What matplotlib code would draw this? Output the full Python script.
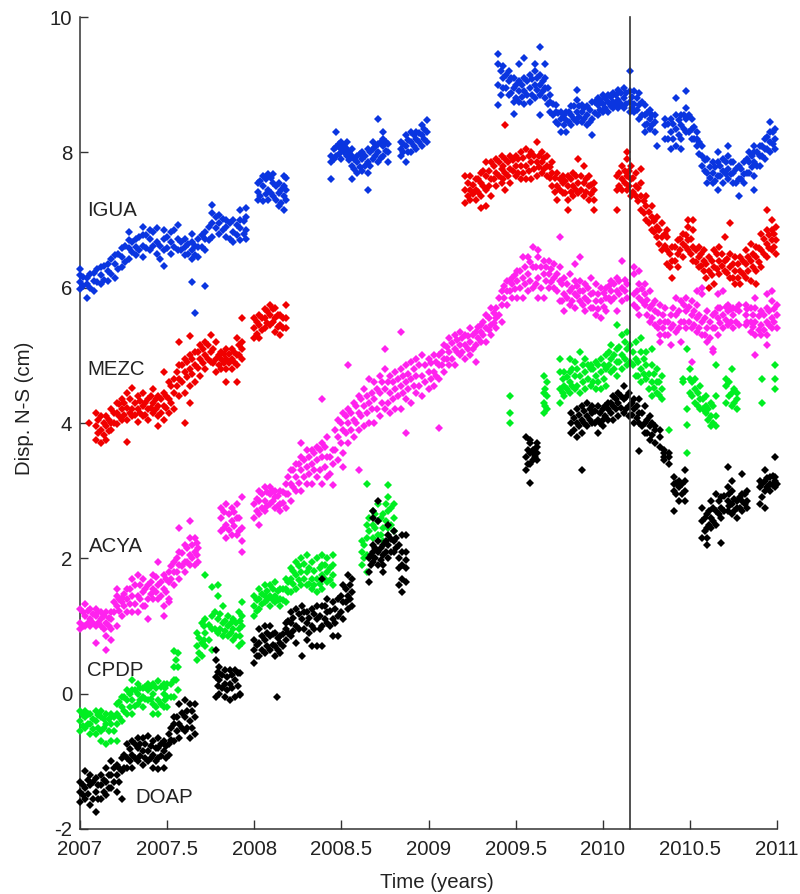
import matplotlib
matplotlib.use("Agg")
import matplotlib.pyplot as plt

plt.rcParams['font.family'] = ['Liberation Sans', 'DejaVu Sans']

X_TICKS = [2007, 2007.5, 2008, 2008.5, 2009, 2009.5, 2010, 2010.5, 2011]
X_LABELS = ['2007', '2007.5', '2008', '2008.5', '2009', '2009.5', '2010', '2010.5', '2011']
Y_TICKS = [-2, 0, 2, 4, 6, 8, 10]
Y_LABELS = ['-2', '0', '2', '4', '6', '8', '10']
EVENT_YEAR = 2010.157

IGUA = [
 (2007.00,[5.98,6.08,6.18,6.28]),(2007.04,[5.85,6.05,6.15]),(2007.08,[5.95,6.10,6.22]),(2007.12,[6.05,6.18,6.30]),
 (2007.16,[6.10,6.25,6.35]),(2007.20,[6.15,6.35,6.48]),(2007.24,[6.30,6.45,6.58]),(2007.28,[6.42,6.58,6.70,6.82]),
 (2007.32,[6.48,6.60,6.72]),(2007.36,[6.45,6.62,6.78,6.90]),(2007.40,[6.55,6.72,6.85]),(2007.44,[6.50,6.68,6.88]),
 (2007.48,[6.32,6.55,6.72,6.85]),(2007.52,[6.50,6.68,6.82]),(2007.56,[6.55,6.72,6.92]),(2007.60,[6.48,6.60,6.72]),
 (2007.645,[6.42,6.55,6.68,6.80,6.08]),(2007.66,[5.63]),(2007.68,[6.45,6.60,6.72]),(2007.72,[6.55,6.72,6.82,6.03]),
 (2007.76,[6.75,6.95,7.10,7.22]),(2007.80,[6.80,6.95,7.08]),(2007.84,[6.75,6.90,7.00]),(2007.88,[6.68,6.82,7.00]),
 (2007.92,[6.70,6.88,7.00,7.15]),(2007.95,[6.72,6.85,7.05,7.18]),
 (2008.02,[7.30,7.42,7.55]),(2008.05,[7.28,7.50,7.65]),(2008.08,[7.30,7.45,7.68]),(2008.11,[7.35,7.55,7.68]),
 (2008.14,[7.20,7.40,7.55]),(2008.17,[7.15,7.35,7.50,7.65]),(2008.185,[7.30,7.45,7.62]),
 (2008.44,[7.60,7.85,7.95]),(2008.47,[7.95,8.08,8.30]),(2008.50,[7.90,8.05,8.15]),(2008.53,[7.95,8.05,8.15]),
 (2008.56,[7.60,7.80,7.95,8.05]),(2008.59,[7.70,7.85,7.95]),(2008.62,[7.72,7.90,8.00]),(2008.65,[7.45,7.70,7.85,8.05]),
 (2008.68,[7.90,8.05,8.15]),(2008.71,[7.85,8.00,8.12,8.50]),(2008.74,[7.95,8.10,8.20,8.30]),(2008.77,[7.85,8.00,8.12]),
 (2008.84,[7.95,8.05,8.15]),(2008.87,[7.85,8.10,8.25]),(2008.90,[8.00,8.15,8.30]),(2008.93,[8.05,8.20,8.30]),
 (2008.96,[8.10,8.25,8.40]),(2008.99,[8.15,8.30,8.48]),
 (2009.40,[8.70,9.00,9.30,9.45]),(2009.43,[8.95,9.10,9.28]),(2009.46,[8.85,9.05,9.20]),(2009.49,[8.56,8.75,8.95,9.10]),
 (2009.52,[8.75,8.90,9.05,9.30]),(2009.55,[8.72,8.90,9.10,9.40]),(2009.58,[8.75,8.95,9.15]),(2009.61,[8.80,9.00,9.20,9.30]),
 (2009.64,[8.55,8.85,9.00,9.15,9.55]),(2009.67,[8.80,8.95,9.10,9.30]),(2009.70,[8.60,8.75,8.85]),(2009.73,[8.45,8.60,8.70]),
 (2009.76,[8.30,8.50,8.60]),(2009.79,[8.30,8.48,8.60]),(2009.82,[8.40,8.55,8.68]),(2009.85,[8.45,8.60,8.78,8.92]),
 (2009.88,[8.45,8.60,8.70]),(2009.91,[8.40,8.55,8.68]),(2009.94,[8.25,8.50,8.75]),(2009.97,[8.55,8.70,8.80]),
 (2010.00,[8.60,8.72,8.85]),(2010.03,[8.60,8.75,8.85]),(2010.06,[8.65,8.75,8.88]),(2010.09,[8.65,8.78,8.92]),
 (2010.12,[8.65,8.80,8.95]),(2010.157,[8.60,8.75,8.90,9.20]),(2010.18,[8.60,8.72,8.90]),(2010.21,[8.50,8.70,8.88]),
 (2010.24,[8.30,8.40,8.55,8.70]),(2010.27,[8.35,8.50,8.62]),(2010.30,[8.30,8.45,8.55]),(2010.31,[8.10]),
 (2010.36,[8.20,8.40,8.50]),(2010.39,[8.05,8.30,8.50]),(2010.42,[8.10,8.35,8.55,8.80]),(2010.45,[8.05,8.20,8.40,8.55]),
 (2010.48,[8.30,8.50,8.65,8.90]),(2010.51,[8.20,8.35,8.50]),(2010.54,[8.10,8.20,8.30]),(2010.57,[7.80,7.95,8.10]),
 (2010.60,[7.55,7.70,7.90]),(2010.63,[7.55,7.70,7.85]),(2010.66,[7.45,7.65,7.85,8.00]),(2010.69,[7.55,7.72,7.90]),
 (2010.72,[7.60,7.75,7.95,8.10]),(2010.75,[7.55,7.70,7.85]),(2010.78,[7.35,7.60,7.80]),(2010.81,[7.55,7.68,7.85]),
 (2010.84,[7.70,7.85,8.00]),(2010.87,[7.45,7.65,7.85,8.00,8.10]),(2010.90,[7.80,7.95,8.10]),(2010.93,[7.90,8.05,8.20]),
 (2010.96,[8.00,8.15,8.30,8.45]),(2010.99,[8.05,8.20,8.35]),
]
IGUA_FILL = [
 (2007.02,[6.02,6.16]),(2007.06,[6.00,6.20]),(2007.10,[6.08,6.28]),(2007.14,[6.12,6.32]),(2007.18,[6.20,6.42]),(2007.22,[6.28,6.50]),
 (2007.26,[6.38,6.62]),(2007.30,[6.52,6.68]),(2007.34,[6.55,6.75]),(2007.38,[6.58,6.78]),(2007.42,[6.62,6.82]),(2007.46,[6.42,6.62]),
 (2007.50,[6.58,6.75]),(2007.54,[6.60,6.85]),(2007.58,[6.55,6.68]),(2007.62,[6.50,6.65]),(2007.66,[6.48,6.62]),(2007.70,[6.60,6.78]),
 (2007.74,[6.70,6.90]),(2007.78,[6.88,7.05]),(2007.82,[6.85,7.02]),(2007.86,[6.72,6.95]),(2007.90,[6.78,6.92]),(2007.94,[6.80,6.98]),
 (2008.035,[7.35,7.58]),(2008.065,[7.38,7.60]),(2008.095,[7.40,7.62]),(2008.125,[7.30,7.50]),(2008.155,[7.25,7.45]),
 (2008.455,[7.90,8.05]),(2008.485,[7.98,8.12]),(2008.515,[8.00,8.10]),(2008.545,[7.88,8.00]),(2008.575,[7.75,7.90]),(2008.605,[7.78,7.98]),
 (2008.635,[7.80,7.95]),(2008.665,[7.80,8.00]),(2008.695,[7.95,8.08]),(2008.725,[7.92,8.15]),(2008.755,[8.02,8.15]),
 (2008.855,[8.00,8.12]),(2008.885,[8.00,8.18]),(2008.915,[8.10,8.25]),(2008.945,[8.15,8.28]),(2008.975,[8.20,8.35]),
 (2009.415,[8.85,9.20]),(2009.445,[8.95,9.15]),(2009.475,[8.88,9.10]),(2009.505,[8.80,9.00]),(2009.535,[8.82,9.00]),(2009.565,[8.85,9.05]),
 (2009.595,[8.85,9.08]),(2009.625,[8.92,9.10]),(2009.655,[8.90,9.05]),(2009.685,[8.72,8.95]),(2009.715,[8.55,8.72]),(2009.745,[8.42,8.58]),
 (2009.775,[8.40,8.55]),(2009.805,[8.45,8.60]),(2009.835,[8.50,8.68]),(2009.865,[8.52,8.68]),(2009.895,[8.50,8.65]),(2009.925,[8.45,8.62]),
 (2009.955,[8.58,8.75]),(2009.985,[8.62,8.78]),(2010.015,[8.65,8.80]),(2010.045,[8.68,8.82]),(2010.075,[8.70,8.85]),(2010.105,[8.72,8.88]),
 (2010.135,[8.72,8.88]),(2010.17,[8.65,8.82]),(2010.195,[8.62,8.80]),(2010.225,[8.55,8.75]),(2010.255,[8.42,8.58]),(2010.285,[8.40,8.55]),
 (2010.375,[8.20,8.42]),(2010.405,[8.20,8.42]),(2010.435,[8.25,8.48]),(2010.465,[8.35,8.55]),(2010.495,[8.30,8.55]),(2010.525,[8.20,8.38]),
 (2010.555,[7.98,8.15]),(2010.585,[7.72,7.88]),(2010.615,[7.62,7.78]),(2010.645,[7.58,7.78]),(2010.675,[7.65,7.80]),(2010.705,[7.68,7.85]),
 (2010.735,[7.68,7.85]),(2010.765,[7.55,7.75]),(2010.795,[7.60,7.75]),(2010.825,[7.70,7.90]),(2010.855,[7.78,7.95]),(2010.885,[7.80,8.00]),
 (2010.915,[7.95,8.10]),(2010.945,[8.05,8.22]),(2010.975,[8.12,8.30]),
]

MEZC = [
 (2007.05,[4.00]),(2007.09,[3.75,3.95,4.15]),(2007.12,[3.70,3.90,4.10]),(2007.15,[3.75,3.95,4.10]),(2007.18,[3.90,4.00,4.20]),
 (2007.21,[3.98,4.15,4.30]),(2007.24,[4.05,4.20,4.35]),(2007.27,[3.72,4.05,4.22,4.45]),(2007.30,[4.10,4.20,4.52]),
 (2007.33,[4.02,4.20,4.40]),(2007.36,[4.10,4.25,4.45]),(2007.39,[4.05,4.20,4.35]),(2007.42,[4.15,4.30,4.50]),
 (2007.45,[3.95,4.10,4.25,4.40]),(2007.48,[4.05,4.25,4.45,4.75]),(2007.51,[4.15,4.35,4.60]),(2007.54,[4.20,4.45,4.65]),
 (2007.57,[4.40,4.65,4.85,5.20]),(2007.60,[4.00,4.45,4.75,4.95]),(2007.63,[4.30,4.55,4.80,5.00,5.28]),(2007.66,[4.60,4.85,5.05]),
 (2007.69,[4.70,4.95,5.15]),(2007.72,[4.80,5.00,5.20]),(2007.75,[4.90,5.05,5.30]),(2007.78,[4.75,4.95,5.20]),
 (2007.81,[4.80,4.95,5.05]),(2007.84,[4.60,4.80,4.95,5.10]),(2007.87,[4.80,4.95,5.10]),(2007.90,[4.60,4.85,5.00,5.25]),
 (2007.93,[4.95,5.10,5.20,5.55]),
 (2008.00,[5.25,5.40,5.55]),(2008.03,[5.25,5.45,5.60]),(2008.06,[5.40,5.55,5.68]),(2008.09,[5.45,5.60,5.75]),
 (2008.12,[5.35,5.55,5.70]),(2008.15,[5.30,5.45,5.60]),(2008.18,[5.40,5.55,5.75]),
 (2009.21,[7.25,7.45,7.65]),(2009.24,[7.30,7.45,7.65]),(2009.27,[7.30,7.45,7.60]),(2009.30,[7.17,7.35,7.55,7.70]),
 (2009.33,[7.20,7.45,7.65,7.85]),(2009.36,[7.35,7.60,7.85]),(2009.39,[7.50,7.70,7.90]),(2009.42,[7.55,7.75,7.95]),
 (2009.44,[7.45,7.70,7.90,8.40]),(2009.47,[7.55,7.75,7.95]),(2009.50,[7.65,7.80,7.95]),(2009.53,[7.60,7.80,8.00]),
 (2009.56,[7.60,7.80,8.05]),(2009.59,[7.60,7.85,8.00]),(2009.62,[7.65,7.85,8.15]),(2009.65,[7.70,7.85,8.00]),
 (2009.68,[7.65,7.80,7.95]),(2009.71,[7.50,7.70,7.85]),(2009.74,[7.30,7.50,7.70]),(2009.77,[7.40,7.55,7.65]),
 (2009.80,[7.15,7.30,7.50,7.65]),(2009.83,[7.35,7.50,7.70]),(2009.86,[7.40,7.55,7.90]),(2009.89,[7.35,7.55,7.80]),
 (2009.92,[7.30,7.50,7.65]),(2009.95,[7.15,7.30,7.45,7.55]),
 (2010.08,[7.15,7.45,7.65]),(2010.11,[7.45,7.60,7.80]),(2010.14,[7.45,7.65,7.90,8.00]),(2010.16,[7.35,7.60,7.80]),
 (2010.19,[7.35,7.50,7.70]),(2010.22,[7.15,7.35,7.55,7.75]),(2010.25,[7.00,7.20,7.35]),(2010.28,[6.85,7.05,7.20]),
 (2010.31,[6.75,6.90,7.05]),(2010.34,[6.55,6.75,6.95]),(2010.37,[6.35,6.55,6.75,6.85]),(2010.40,[6.15,6.40,6.60]),
 (2010.43,[6.30,6.50,6.70]),(2010.46,[6.45,6.65,6.80]),(2010.49,[6.55,6.70,6.90,7.00]),(2010.52,[6.40,6.60,6.85,7.00]),
 (2010.55,[6.30,6.45,6.60]),(2010.58,[6.25,6.40,6.55]),(2010.61,[6.00,6.25,6.45]),(2010.64,[6.05,6.30,6.55]),
 (2010.67,[6.20,6.40,6.60]),(2010.70,[6.25,6.40,6.75]),(2010.73,[6.15,6.30,6.50,6.95]),(2010.76,[6.05,6.25,6.45]),
 (2010.79,[6.05,6.25,6.45]),(2010.82,[6.15,6.35,6.55]),(2010.85,[6.10,6.40,6.65]),(2010.88,[6.05,6.25,6.45,6.60]),
 (2010.91,[6.30,6.55,6.80]),(2010.94,[6.45,6.65,6.85,7.15]),(2010.97,[6.55,6.70,6.85,7.00]),(2010.995,[6.50,6.70,6.90]),
]
MEZC_FILL = [
 (2007.105,[3.85,4.05]),(2007.135,[3.82,4.00]),(2007.165,[3.88,4.05]),(2007.195,[4.00,4.15]),(2007.225,[4.10,4.28]),(2007.255,[4.12,4.30]),
 (2007.285,[4.15,4.35]),(2007.315,[4.12,4.30]),(2007.345,[4.15,4.32]),(2007.375,[4.12,4.30]),(2007.405,[4.22,4.40]),(2007.435,[4.20,4.35]),
 (2007.465,[4.15,4.35]),(2007.495,[4.22,4.40]),(2007.525,[4.30,4.55]),(2007.555,[4.55,4.75]),(2007.585,[4.60,4.85]),(2007.615,[4.68,4.90]),
 (2007.645,[4.72,4.95]),(2007.675,[4.82,5.05]),(2007.705,[4.88,5.10]),(2007.735,[4.95,5.15]),(2007.765,[4.88,5.10]),(2007.795,[4.85,5.00]),
 (2007.825,[4.88,5.02]),(2007.855,[4.88,5.02]),(2007.885,[4.90,5.05]),(2007.915,[5.00,5.15]),
 (2008.015,[5.32,5.50]),(2008.045,[5.38,5.55]),(2008.075,[5.48,5.65]),(2008.105,[5.50,5.68]),(2008.135,[5.42,5.60]),(2008.165,[5.40,5.55]),
 (2009.225,[7.35,7.55]),(2009.255,[7.38,7.52]),(2009.285,[7.42,7.60]),(2009.315,[7.50,7.72]),(2009.345,[7.50,7.72]),(2009.375,[7.60,7.80]),
 (2009.405,[7.65,7.85]),(2009.43,[7.60,7.80]),(2009.455,[7.65,7.85]),(2009.485,[7.72,7.88]),(2009.515,[7.70,7.90]),(2009.545,[7.70,7.92]),
 (2009.575,[7.72,7.95]),(2009.605,[7.75,7.95]),(2009.635,[7.78,7.95]),(2009.665,[7.75,7.92]),(2009.695,[7.62,7.78]),(2009.725,[7.42,7.62]),
 (2009.755,[7.45,7.60]),(2009.785,[7.40,7.58]),(2009.815,[7.42,7.60]),(2009.845,[7.45,7.65]),(2009.875,[7.45,7.65]),(2009.905,[7.42,7.60]),
 (2009.935,[7.38,7.52]),
 (2010.095,[7.50,7.70]),(2010.125,[7.55,7.72]),(2010.15,[7.50,7.72]),(2010.175,[7.42,7.62]),(2010.205,[7.28,7.48]),(2010.235,[7.10,7.28]),
 (2010.265,[6.95,7.12]),(2010.295,[6.82,6.98]),(2010.325,[6.65,6.85]),(2010.355,[6.62,6.80]),(2010.385,[6.30,6.50]),(2010.415,[6.40,6.60]),
 (2010.445,[6.55,6.72]),(2010.475,[6.60,6.78]),(2010.505,[6.50,6.72]),(2010.535,[6.38,6.55]),(2010.565,[6.32,6.50]),(2010.595,[6.15,6.35]),
 (2010.625,[6.18,6.40]),(2010.655,[6.28,6.50]),(2010.685,[6.32,6.50]),(2010.715,[6.22,6.42]),(2010.745,[6.15,6.35]),(2010.775,[6.15,6.35]),
 (2010.805,[6.20,6.40]),(2010.835,[6.25,6.45]),(2010.865,[6.30,6.50]),(2010.895,[6.38,6.58]),(2010.925,[6.50,6.72]),(2010.955,[6.58,6.78]),
 (2010.985,[6.60,6.80]),
]

ACYA = [
 (2007.00,[0.95,1.05,1.25]),(2007.03,[1.00,1.15,1.32]),(2007.06,[1.00,1.10,1.25]),(2007.09,[0.75,1.00,1.15,1.25]),
 (2007.12,[1.00,1.10,1.20]),(2007.15,[0.65,0.85,1.05,1.20]),(2007.18,[0.80,0.95,1.10,1.20]),(2007.21,[1.00,1.30,1.45,1.55]),
 (2007.24,[1.15,1.35,1.42]),(2007.27,[1.20,1.40,1.55]),(2007.30,[1.20,1.45,1.70]),(2007.33,[1.20,1.45,1.75]),
 (2007.36,[1.30,1.50,1.70]),(2007.39,[1.10,1.40,1.60]),(2007.42,[1.40,1.55,1.75]),(2007.45,[1.40,1.60,1.95]),
 (2007.48,[1.15,1.30,1.55,1.75]),(2007.51,[1.35,1.40,1.65,1.80]),(2007.54,[1.60,1.80,1.95]),(2007.57,[1.70,1.90,2.10,2.45]),
 (2007.60,[1.80,1.95,2.20]),(2007.63,[1.90,2.05,2.30,2.55]),(2007.66,[1.90,2.10,2.30]),(2007.68,[1.95,2.15]),
 (2007.81,[2.40,2.60,2.75]),(2007.84,[2.30,2.50,2.80]),(2007.87,[2.35,2.55,2.75]),(2007.90,[2.35,2.60,2.80]),
 (2007.93,[2.10,2.25,2.45,2.90]),
 (2008.00,[2.60,2.80]),(2008.03,[2.50,2.65,2.85,3.00]),(2008.06,[2.70,2.85,3.05]),(2008.09,[2.80,2.95,3.05]),
 (2008.12,[2.75,2.90,3.00]),(2008.15,[2.70,2.80,3.00]),(2008.18,[2.75,2.95,3.10]),(2008.21,[2.85,3.10,3.30]),
 (2008.24,[3.00,3.20,3.40]),(2008.27,[3.00,3.30,3.50,3.70]),(2008.30,[3.10,3.35,3.60]),(2008.33,[3.10,3.40,3.60]),
 (2008.36,[3.20,3.45,3.65]),(2008.39,[3.10,3.50,3.70,4.35]),(2008.42,[3.20,3.50,3.80]),(2008.45,[3.08,3.40,3.60]),
 (2008.48,[3.45,3.80,4.05]),(2008.51,[3.35,3.55,3.90,4.15]),(2008.54,[3.70,4.00,4.20,4.85]),(2008.57,[3.80,4.05,4.30]),
 (2008.60,[3.30,3.90,4.15,4.40]),(2008.63,[3.95,4.25,4.50]),(2008.66,[4.00,4.30,4.65]),(2008.69,[4.00,4.35,4.60]),
 (2008.72,[4.10,4.45,4.70]),(2008.75,[4.20,4.50,4.80,5.10]),(2008.78,[4.15,4.45,4.70]),(2008.81,[4.20,4.50,4.75]),
 (2008.84,[4.20,4.55,4.80,5.35]),(2008.87,[3.85,4.35,4.60,4.85]),(2008.90,[4.30,4.65,4.90]),(2008.93,[4.45,4.70,4.95]),
 (2008.96,[4.40,4.70,5.00]),(2009.00,[4.50,4.75,4.95]),(2009.03,[4.55,4.75,5.00]),(2009.06,[3.92,4.65,4.85,5.00]),
 (2009.09,[4.75,4.95,5.15]),(2009.12,[4.85,5.05,5.25]),(2009.15,[4.85,5.10,5.30]),(2009.18,[5.00,5.15,5.35]),
 (2009.21,[4.95,5.15,5.30]),(2009.24,[5.00,5.20,5.40]),(2009.27,[4.90,5.15,5.35]),(2009.30,[5.20,5.35,5.45]),
 (2009.33,[5.20,5.40,5.60]),(2009.36,[5.30,5.45,5.70]),(2009.39,[5.40,5.55,5.70]),(2009.42,[5.50,5.75,5.95]),
 (2009.45,[5.75,5.95,6.10]),(2009.48,[5.85,6.05,6.15]),(2009.51,[5.85,6.10,6.25]),(2009.54,[5.85,6.15,6.45]),
 (2009.57,[5.95,6.20,6.45]),(2009.60,[6.00,6.30,6.60]),(2009.63,[5.85,6.15,6.45,6.55]),(2009.66,[5.85,6.20,6.40]),
 (2009.69,[6.00,6.20,6.40]),(2009.72,[6.00,6.15,6.35]),(2009.755,[5.80,6.10,6.30,6.75]),(2009.78,[5.65,5.90,6.15]),
 (2009.81,[5.75,5.95,6.20]),(2009.84,[5.70,5.90,6.10,6.35]),(2009.87,[5.80,5.95,6.10,6.45]),(2009.90,[5.65,5.85,6.05]),
 (2009.93,[5.70,5.90,6.15]),(2009.96,[5.60,5.80,6.05]),(2009.99,[5.55,5.80,6.00]),(2010.02,[5.65,5.85,6.00]),
 (2010.05,[5.80,5.95,6.10]),(2010.08,[5.65,5.95,6.15]),(2010.11,[5.80,6.00,6.40]),(2010.14,[5.85,6.05]),
 (2010.18,[5.75,5.90,6.20,6.30]),(2010.21,[5.60,5.85,6.05,6.25]),(2010.24,[5.75,5.90,6.05]),(2010.27,[5.50,5.70,5.95]),
 (2010.30,[5.45,5.65,5.80]),(2010.33,[5.20,5.30,5.50,5.75]),(2010.36,[5.30,5.50,5.70]),(2010.39,[5.15,5.40,5.60]),
 (2010.42,[5.35,5.60,5.85]),(2010.45,[5.20,5.50,5.80]),(2010.48,[5.40,5.65,5.85]),(2010.51,[4.90,5.40,5.60,5.80]),
 (2010.54,[5.35,5.55,5.75,5.95]),(2010.57,[5.30,5.50,5.90,6.00]),(2010.60,[5.20,5.40,5.65]),(2010.63,[5.05,5.10,5.40,5.60]),
 (2010.66,[5.30,5.55,5.70,5.90]),(2010.69,[5.40,5.60,5.95]),(2010.72,[5.45,5.65,5.75]),(2010.75,[5.40,5.60,5.70]),
 (2010.78,[5.45,5.65,5.75]),(2010.82,[5.45,5.60,5.75]),(2010.85,[5.35,5.50,5.70]),(2010.876,[5.00,5.30,5.50,5.70,5.85]),
 (2010.91,[5.30,5.45,5.65]),(2010.94,[5.15,5.30,5.50,5.70,5.90]),(2010.97,[5.40,5.55,5.80,5.95]),(2011.00,[5.40,5.60,5.75]),
]
ACYA_FILL = [
 (2007.015,[1.00,1.20]),(2007.045,[1.05,1.22]),(2007.075,[1.05,1.18]),(2007.105,[1.05,1.20]),(2007.135,[0.95,1.15]),(2007.165,[1.00,1.12]),
 (2007.195,[1.20,1.35]),(2007.225,[1.22,1.40]),(2007.255,[1.30,1.48]),(2007.285,[1.32,1.55]),(2007.315,[1.32,1.60]),(2007.345,[1.40,1.60]),
 (2007.375,[1.30,1.55]),(2007.405,[1.48,1.65]),(2007.435,[1.50,1.72]),(2007.465,[1.45,1.65]),(2007.495,[1.50,1.70]),(2007.525,[1.70,1.88]),
 (2007.555,[1.80,2.00]),(2007.585,[1.88,2.08]),(2007.615,[1.95,2.15]),(2007.645,[2.00,2.20]),(2007.67,[2.05,2.22]),
 (2007.825,[2.45,2.68]),(2007.855,[2.42,2.65]),(2007.885,[2.48,2.68]),(2007.915,[2.40,2.60]),
 (2008.015,[2.70,2.88]),(2008.045,[2.75,2.95]),(2008.075,[2.78,2.98]),(2008.105,[2.85,3.00]),(2008.135,[2.78,2.92]),(2008.165,[2.82,2.98]),
 (2008.195,[2.95,3.20]),(2008.225,[3.05,3.30]),(2008.255,[3.12,3.40]),(2008.285,[3.20,3.45]),(2008.315,[3.25,3.50]),(2008.345,[3.30,3.55]),
 (2008.375,[3.30,3.60]),(2008.405,[3.35,3.65]),(2008.435,[3.25,3.50]),(2008.465,[3.60,3.90]),(2008.495,[3.70,4.00]),(2008.525,[3.85,4.10]),
 (2008.555,[3.90,4.15]),(2008.585,[4.00,4.25]),(2008.615,[4.10,4.35]),(2008.645,[4.15,4.40]),(2008.675,[4.20,4.45]),(2008.705,[4.20,4.50]),
 (2008.735,[4.30,4.60]),(2008.765,[4.30,4.60]),(2008.795,[4.35,4.60]),(2008.825,[4.40,4.65]),(2008.855,[4.45,4.70]),(2008.885,[4.50,4.72]),
 (2008.915,[4.55,4.80]),(2008.945,[4.55,4.85]),(2008.98,[4.60,4.85]),
 (2009.015,[4.65,4.88]),(2009.045,[4.70,4.90]),(2009.075,[4.85,5.05]),(2009.105,[4.95,5.12]),(2009.135,[4.95,5.18]),(2009.165,[5.05,5.22]),
 (2009.195,[5.05,5.25]),(2009.225,[5.10,5.28]),(2009.255,[5.10,5.30]),(2009.285,[5.25,5.42]),(2009.315,[5.30,5.50]),(2009.345,[5.38,5.55]),
 (2009.375,[5.48,5.62]),(2009.405,[5.60,5.85]),(2009.435,[5.85,6.02]),(2009.465,[5.95,6.10]),(2009.495,[5.98,6.18]),(2009.525,[6.00,6.25]),
 (2009.555,[6.05,6.30]),(2009.585,[6.10,6.38]),(2009.615,[6.05,6.30]),(2009.645,[6.00,6.30]),(2009.675,[6.10,6.30]),(2009.705,[6.08,6.28]),
 (2009.735,[5.95,6.20]),(2009.765,[5.80,6.05]),(2009.795,[5.85,6.05]),(2009.825,[5.80,6.00]),(2009.855,[5.88,6.02]),(2009.885,[5.75,5.95]),
 (2009.915,[5.80,6.00]),(2009.945,[5.70,5.92]),(2009.975,[5.68,5.90]),(2010.005,[5.72,5.92]),(2010.035,[5.85,6.02]),(2010.065,[5.85,6.05]),
 (2010.095,[5.90,6.10]),(2010.125,[5.95,6.12]),(2010.195,[5.70,5.95]),(2010.225,[5.80,5.98]),(2010.255,[5.60,5.82]),(2010.285,[5.55,5.75]),
 (2010.315,[5.40,5.62]),(2010.345,[5.40,5.60]),(2010.375,[5.30,5.50]),(2010.405,[5.45,5.70]),(2010.435,[5.40,5.65]),(2010.465,[5.50,5.75]),
 (2010.495,[5.50,5.72]),(2010.525,[5.45,5.65]),(2010.555,[5.40,5.60]),(2010.585,[5.30,5.55]),(2010.615,[5.25,5.50]),(2010.645,[5.40,5.62]),
 (2010.675,[5.48,5.70]),(2010.705,[5.52,5.72]),(2010.735,[5.50,5.68]),(2010.765,[5.50,5.68]),(2010.83,[5.50,5.68]),(2010.865,[5.42,5.60]),
 (2010.895,[5.38,5.58]),(2010.925,[5.38,5.60]),(2010.955,[5.45,5.65]),(2010.985,[5.50,5.68]),
]

CPDP = [
 (2007.00,[-0.55,-0.40,-0.25]),(2007.03,[-0.50,-0.35,-0.25]),(2007.06,[-0.60,-0.45,-0.30]),(2007.09,[-0.60,-0.40,-0.25]),
 (2007.12,[-0.70,-0.55,-0.35,-0.25]),(2007.15,[-0.75,-0.45,-0.30]),(2007.18,[-0.70,-0.45,-0.30]),(2007.21,[-0.70,-0.45,-0.30,-0.15]),
 (2007.24,[-0.40,-0.20,-0.05]),(2007.27,[-0.30,-0.10,0.05]),(2007.30,[-0.30,-0.10,0.05,0.20]),(2007.33,[-0.15,0.00,0.15]),
 (2007.36,[-0.20,-0.05,0.08]),(2007.39,[-0.10,0.05,0.15]),(2007.42,[-0.30,-0.15,0.00,0.15]),(2007.45,[-0.30,-0.10,0.18]),
 (2007.48,[-0.20,0.00,0.15]),(2007.50,[-0.20,-0.05,0.15]),(2007.54,[-0.05,0.20,0.40,0.63]),(2007.56,[0.05,0.40,0.60]),
 (2007.67,[0.50,0.70,0.90]),(2007.70,[0.55,0.75,1.05]),(2007.72,[0.70,0.90,1.10,1.75]),(2007.76,[0.65,0.95,1.15,1.58]),
 (2007.79,[0.90,1.10,1.45,1.60]),(2007.82,[0.85,1.05,1.30]),(2007.85,[0.85,1.00,1.15]),(2007.88,[0.80,0.95,1.10]),
 (2007.91,[0.70,0.95,1.20]),(2007.93,[0.75,1.00,1.15,1.35]),
 (2008.00,[1.15,1.30,1.45]),(2008.03,[1.25,1.40,1.55]),(2008.06,[1.35,1.45,1.60]),(2008.09,[1.30,1.45,1.60]),
 (2008.12,[1.35,1.45,1.65]),(2008.15,[1.30,1.40,1.55]),(2008.18,[1.35,1.55,1.70]),(2008.21,[1.50,1.70,1.85]),
 (2008.24,[1.55,1.75,1.95]),(2008.27,[1.60,1.80,2.00]),(2008.30,[1.60,1.80,2.05]),(2008.33,[1.55,1.70,1.95]),
 (2008.36,[1.50,1.70,2.00]),(2008.39,[1.55,1.75,1.90,2.05]),(2008.42,[1.65,1.80,2.00]),(2008.45,[1.60,1.75,1.90,2.05]),
 (2008.62,[1.90,2.10,2.25]),(2008.645,[1.80,2.05,2.30,2.50,3.10]),(2008.68,[2.30,2.50,2.70]),(2008.71,[2.35,2.55,2.80]),
 (2008.74,[2.25,2.45,2.65]),(2008.77,[2.45,2.70,2.90,3.08]),(2008.80,[2.40,2.60,2.80]),
 (2009.47,[4.00,4.15,4.40]),(2009.66,[4.15,4.30,4.45,4.70]),(2009.68,[4.20,4.40,4.60]),(2009.755,[4.30,4.50,4.75,4.95]),
 (2009.78,[4.40,4.55,4.75]),(2009.81,[4.45,4.60,4.75,4.95]),(2009.84,[4.50,4.70,4.90]),(2009.87,[4.45,4.70,5.05]),
 (2009.90,[4.50,4.75,4.95]),(2009.93,[4.55,4.80,4.85]),(2009.96,[4.50,4.70,4.90]),(2009.99,[4.50,4.75,4.95]),
 (2010.02,[4.55,4.80,5.00]),(2010.05,[4.75,4.95,5.15]),(2010.08,[4.70,4.90,5.10,5.45]),(2010.11,[4.80,5.00,5.30]),
 (2010.14,[4.85,5.10,5.35]),(2010.157,[4.90,5.15]),(2010.19,[4.70,4.95,5.20]),(2010.22,[4.60,4.80,5.05,5.25]),
 (2010.25,[4.65,4.85,5.05]),(2010.28,[4.40,4.60,4.85,5.10]),(2010.31,[4.45,4.60,4.80]),(2010.34,[4.35,4.50,4.70]),
 (2010.38,[3.90]),(2010.46,[4.60,4.65]),(2010.484,[3.55,3.97,4.20,5.09]),(2010.50,[4.45,4.65,4.80]),(2010.53,[4.30,4.50,4.65]),
 (2010.56,[4.20,4.35,4.55]),(2010.59,[4.15,4.25,4.40]),(2010.62,[3.95,4.10,4.30]),(2010.65,[3.95,4.10,4.40,4.85]),
 (2010.71,[4.30,4.55,4.65]),(2010.74,[4.25,4.45,4.80]),(2010.77,[4.20,4.35,4.45]),(2010.915,[4.30,4.65]),
 (2010.99,[4.50,4.65,4.85]),
]
CPDP_FILL = [
 (2007.015,[-0.48,-0.32]),(2007.045,[-0.45,-0.30]),(2007.075,[-0.52,-0.38]),(2007.105,[-0.50,-0.32]),(2007.135,[-0.50,-0.38]),(2007.165,[-0.55,-0.38]),
 (2007.195,[-0.55,-0.35]),(2007.225,[-0.35,-0.12]),(2007.255,[-0.25,-0.05]),(2007.285,[-0.20,0.00]),(2007.315,[-0.18,0.05]),(2007.345,[-0.10,0.08]),
 (2007.375,[-0.08,0.10]),(2007.405,[-0.08,0.10]),(2007.435,[-0.20,0.08]),(2007.465,[-0.15,0.10]),(2007.49,[-0.10,0.08]),(2007.525,[-0.05,0.15]),
 (2007.55,[0.20,0.50]),
 (2007.685,[0.60,0.82]),(2007.71,[0.80,1.00]),(2007.74,[0.80,1.02]),(2007.775,[0.95,1.20]),(2007.805,[0.95,1.18]),(2007.835,[0.92,1.08]),
 (2007.865,[0.90,1.05]),(2007.895,[0.85,1.05]),(2007.92,[0.85,1.08]),
 (2008.015,[1.22,1.38]),(2008.045,[1.32,1.48]),(2008.075,[1.38,1.52]),(2008.105,[1.38,1.55]),(2008.135,[1.38,1.52]),(2008.165,[1.38,1.55]),
 (2008.195,[1.50,1.65]),(2008.225,[1.62,1.82]),(2008.255,[1.68,1.88]),(2008.285,[1.70,1.92]),(2008.315,[1.62,1.85]),(2008.345,[1.60,1.82]),
 (2008.375,[1.62,1.85]),(2008.405,[1.70,1.90]),(2008.435,[1.68,1.85]),
 (2008.63,[2.00,2.20]),(2008.66,[2.40,2.60]),(2008.695,[2.45,2.65]),(2008.725,[2.35,2.60]),(2008.755,[2.55,2.80]),(2008.785,[2.50,2.75]),
 (2009.67,[4.25,4.50]),(2009.77,[4.45,4.65]),(2009.795,[4.50,4.68]),(2009.825,[4.55,4.80]),(2009.855,[4.55,4.80]),(2009.885,[4.60,4.85]),
 (2009.915,[4.65,4.85]),(2009.945,[4.60,4.80]),(2009.975,[4.60,4.85]),(2010.005,[4.65,4.85]),(2010.035,[4.85,5.05]),(2010.065,[4.80,5.00]),
 (2010.095,[4.90,5.12]),(2010.125,[4.95,5.20]),(2010.175,[4.85,5.05]),(2010.205,[4.70,4.90]),(2010.235,[4.72,4.95]),(2010.265,[4.50,4.72]),
 (2010.295,[4.52,4.72]),(2010.325,[4.42,4.60]),(2010.515,[4.40,4.60]),(2010.545,[4.25,4.45]),(2010.575,[4.20,4.35]),(2010.605,[4.05,4.20]),
 (2010.635,[4.00,4.25]),(2010.725,[4.40,4.60]),(2010.755,[4.30,4.50]),
]

DOAP = [
 (2007.00,[-1.60,-1.45,-1.30]),(2007.03,[-1.55,-1.40,-1.15]),(2007.06,[-1.65,-1.35,-1.20]),(2007.09,[-1.75,-1.45,-1.25]),
 (2007.12,[-1.55,-1.35,-1.20]),(2007.15,[-1.50,-1.30,-1.10]),(2007.18,[-1.40,-1.20,-1.00]),(2007.21,[-1.45,-1.20,-1.05]),
 (2007.24,[-1.55,-1.15,-0.95]),(2007.27,[-1.10,-0.95,-0.75]),(2007.30,[-1.10,-0.90,-0.70]),(2007.33,[-1.00,-0.80,-0.65]),
 (2007.36,[-1.05,-0.85,-0.65]),(2007.39,[-1.00,-0.85,-0.62]),(2007.42,[-1.10,-0.90,-0.70]),(2007.45,[-1.12,-0.95,-0.80,-0.65]),
 (2007.48,[-1.10,-0.85,-0.70]),(2007.51,[-0.90,-0.75,-0.60]),(2007.54,[-0.70,-0.45,-0.35]),(2007.57,[-0.65,-0.45,-0.15]),
 (2007.60,[-0.55,-0.35,-0.10]),(2007.63,[-0.65,-0.40,-0.15]),(2007.66,[-0.60,-0.35,-0.15]),
 (2007.78,[-0.05,0.25,0.50,0.65]),(2007.80,[0.00,0.20,0.40]),(2007.83,[-0.05,0.15,0.35]),(2007.86,[-0.10,0.15,0.35]),
 (2007.89,[-0.05,0.20,0.35]),(2007.92,[-0.02,0.00,0.30]),
 (2008.00,[0.45,0.65,0.80]),(2008.03,[0.55,0.75,0.95]),(2008.06,[0.60,0.80,1.00]),(2008.09,[0.65,0.85,1.00]),
 (2008.12,[0.55,0.70,0.90]),(2008.13,[-0.05]),(2008.15,[0.60,0.75,0.85]),(2008.18,[0.80,0.95,1.05]),(2008.21,[0.85,1.05,1.20]),
 (2008.24,[0.75,1.00,1.25]),(2008.275,[0.55,1.10,1.30]),(2008.30,[0.80,1.05,1.20]),(2008.33,[0.70,1.00,1.25]),
 (2008.36,[0.70,1.10,1.30]),(2008.39,[0.70,1.00,1.30,1.70]),(2008.42,[1.05,1.20,1.40]),(2008.45,[0.85,1.10,1.35]),
 (2008.48,[0.85,1.15,1.40]),(2008.51,[1.10,1.35,1.60]),(2008.54,[1.25,1.45,1.75]),(2008.56,[1.30,1.50,1.70]),
 (2008.66,[1.65,1.80,2.00]),(2008.68,[1.95,2.10,2.20,2.60,2.70]),(2008.71,[1.90,2.10,2.25,2.55,2.85]),(2008.74,[1.80,1.90,2.05,2.20]),
 (2008.77,[2.00,2.20,2.35,2.50]),(2008.80,[2.10,2.25,2.40]),(2008.83,[1.60,1.85,2.00,2.20]),(2008.85,[1.50,1.70,1.90,2.10,2.35]),
 (2008.87,[1.65,1.85,1.98,2.10,2.35]),
 (2009.56,[3.30,3.50,3.80]),(2009.58,[3.12,3.40,3.55,3.70,3.75]),(2009.60,[3.45,3.55,3.60]),(2009.62,[3.45,3.55,3.65,3.70]),
 (2009.82,[3.85,4.00,4.15]),(2009.85,[3.80,4.00,4.20]),(2009.88,[3.30,3.85,4.05,4.25]),(2009.91,[3.95,4.10,4.30]),
 (2009.94,[4.00,4.15,4.25]),(2009.97,[3.85,4.05,4.25]),(2010.00,[3.95,4.05,4.20]),(2010.03,[4.05,4.20,4.30]),
 (2010.06,[4.05,4.25,4.40]),(2010.09,[4.10,4.30,4.45]),(2010.12,[4.15,4.35,4.55]),(2010.15,[4.10,4.25,4.45]),
 (2010.18,[4.00,4.20,4.35]),(2010.208,[3.58,4.00,4.15,4.35]),(2010.24,[3.85,4.00,4.25]),(2010.27,[3.75,3.95,4.10]),
 (2010.30,[3.70,3.90,3.95]),(2010.33,[3.65,3.80,3.90]),(2010.35,[3.45,3.50,3.55,3.60]),(2010.38,[3.40,3.50,3.55]),
 (2010.41,[2.70,3.00,3.10,3.20]),(2010.44,[2.85,3.05,3.15]),(2010.47,[2.85,3.00,3.15,3.30]),
 (2010.57,[2.30,2.55,2.75]),(2010.60,[2.20,2.30,2.45,2.65]),(2010.62,[2.45,2.60,2.85]),(2010.65,[2.50,2.70,2.95]),
 (2010.68,[2.22,2.60,2.75,2.90]),(2010.72,[2.70,2.85,3.05,3.35]),(2010.74,[2.65,2.80,3.00,3.15]),(2010.77,[2.60,2.75,2.85]),
 (2010.80,[2.70,2.85,2.95,3.25]),(2010.83,[2.75,2.85,3.00]),(2010.90,[2.80,3.05,3.15]),(2010.93,[2.75,3.00,3.15,3.30]),
 (2010.96,[3.00,3.10,3.20]),(2010.99,[3.05,3.15,3.20,3.50]),(2011.00,[3.10]),
]
DOAP_FILL = [
 (2007.015,[-1.50,-1.35]),(2007.045,[-1.48,-1.28]),(2007.075,[-1.55,-1.30]),(2007.105,[-1.55,-1.35]),(2007.135,[-1.45,-1.28]),(2007.165,[-1.40,-1.20]),
 (2007.195,[-1.30,-1.10]),(2007.225,[-1.30,-1.10]),(2007.255,[-1.10,-0.90]),(2007.285,[-1.00,-0.82]),(2007.315,[-0.95,-0.75]),(2007.345,[-0.92,-0.75]),
 (2007.375,[-0.95,-0.75]),(2007.405,[-0.95,-0.78]),(2007.435,[-1.00,-0.80]),(2007.465,[-0.92,-0.75]),(2007.495,[-0.95,-0.78]),(2007.525,[-0.68,-0.50]),
 (2007.555,[-0.55,-0.35]),(2007.585,[-0.50,-0.28]),(2007.615,[-0.50,-0.25]),(2007.645,[-0.50,-0.25]),
 (2007.79,[0.12,0.32]),(2007.815,[0.08,0.28]),(2007.845,[0.05,0.25]),(2007.875,[0.08,0.28]),(2007.905,[0.12,0.30]),
 (2008.015,[0.55,0.72]),(2008.045,[0.65,0.85]),(2008.075,[0.70,0.90]),(2008.105,[0.72,0.88]),(2008.135,[0.65,0.82]),(2008.165,[0.70,0.88]),
 (2008.195,[0.90,1.08]),(2008.225,[0.92,1.12]),(2008.255,[0.95,1.18]),(2008.285,[0.95,1.20]),(2008.315,[0.90,1.12]),(2008.345,[0.95,1.18]),
 (2008.375,[0.95,1.15]),(2008.405,[1.10,1.30]),(2008.435,[1.00,1.22]),(2008.465,[1.05,1.25]),(2008.495,[1.20,1.45]),(2008.525,[1.35,1.55]),
 (2008.55,[1.40,1.60]),
 (2008.67,[1.90,2.05]),(2008.695,[2.00,2.15]),(2008.725,[1.98,2.15]),(2008.755,[2.10,2.25]),(2008.785,[2.10,2.28]),(2008.815,[2.15,2.30]),
 (2009.57,[3.40,3.60]),(2009.61,[3.50,3.62]),
 (2009.835,[3.90,4.08]),(2009.865,[3.95,4.12]),(2009.895,[4.00,4.18]),(2009.925,[4.05,4.20]),(2009.955,[4.00,4.18]),(2009.985,[4.00,4.15]),
 (2010.015,[4.10,4.25]),(2010.045,[4.15,4.30]),(2010.075,[4.20,4.35]),(2010.105,[4.22,4.40]),(2010.135,[4.20,4.38]),(2010.165,[4.12,4.30]),
 (2010.195,[4.08,4.25]),(2010.225,[3.95,4.15]),(2010.255,[3.85,4.05]),(2010.285,[3.82,4.00]),(2010.42,[2.95,3.12]),(2010.455,[2.95,3.10]),
 (2010.585,[2.40,2.60]),(2010.61,[2.50,2.70]),(2010.635,[2.55,2.75]),(2010.665,[2.65,2.85]),(2010.695,[2.70,2.92]),(2010.725,[2.78,2.95]),
 (2010.755,[2.70,2.88]),(2010.785,[2.75,2.90]),(2010.815,[2.80,2.95]),(2010.915,[2.90,3.10]),(2010.945,[3.05,3.18]),(2010.975,[3.08,3.22]),
]

SERIES = [(IGUA + IGUA_FILL, '#0a35e0'), (MEZC + MEZC_FILL, '#f00000'), (ACYA + ACYA_FILL, '#ff22ee'),
          (CPDP + CPDP_FILL, '#00ee22'), (DOAP + DOAP_FILL, '#000000')]
LABELS = [('IGUA', 2007.04, 7.0), ('MEZC', 2007.04, 4.65), ('ACYA', 2007.05, 2.03),
          ('CPDP', 2007.04, 0.2), ('DOAP', 2007.315, -1.68)]

fig = plt.figure(figsize=(8, 8.94), dpi=100)
ax = fig.add_axes([80/800, 1-829/894, (777-80)/800, (829-17)/894])
for data, color in SERIES:
    xs = [t for t, vals in data for _ in vals]
    ys = [y for t, vals in data for y in vals]
    ax.plot(xs, ys, ls='none', marker='D', ms=3.9, mew=0, color=color, clip_on=False, zorder=3)
ax.plot([EVENT_YEAR, EVENT_YEAR], [-2, 10], color='#333333', lw=1.2, zorder=4, clip_on=False)

ax.set_xlim(2007, 2011)
ax.set_ylim(-2, 10)
for s in ('top', 'right'):
    ax.spines[s].set_visible(False)
for s in ('left', 'bottom'):
    ax.spines[s].set_color('#333333')
    ax.spines[s].set_linewidth(1.1)
ax.set_xticks(X_TICKS, X_LABELS)
ax.set_yticks(Y_TICKS, Y_LABELS)
ax.tick_params(axis='x', direction='in', length=6.5, width=1.0, color='#333333', labelsize=14.7, pad=8, labelcolor='#222222')
ax.tick_params(axis='y', direction='in', length=6, width=1.0, color='#333333', labelsize=14.7, pad=5.5, labelcolor='#222222')
for name, x, y in LABELS:
    ax.text(x, y, name, fontsize=14.7, color='#222222', va='bottom', ha='left', zorder=5)
fig.text(437/800, 1-882/894, 'Time (years)', fontsize=14.7, color='#222222', ha='center', va='center')
fig.text(24/800, 1-408/894, 'Disp. N-S (cm)', fontsize=14.7, color='#222222', rotation=90, ha='center', va='center')
fig.savefig('out.png', dpi=100)
